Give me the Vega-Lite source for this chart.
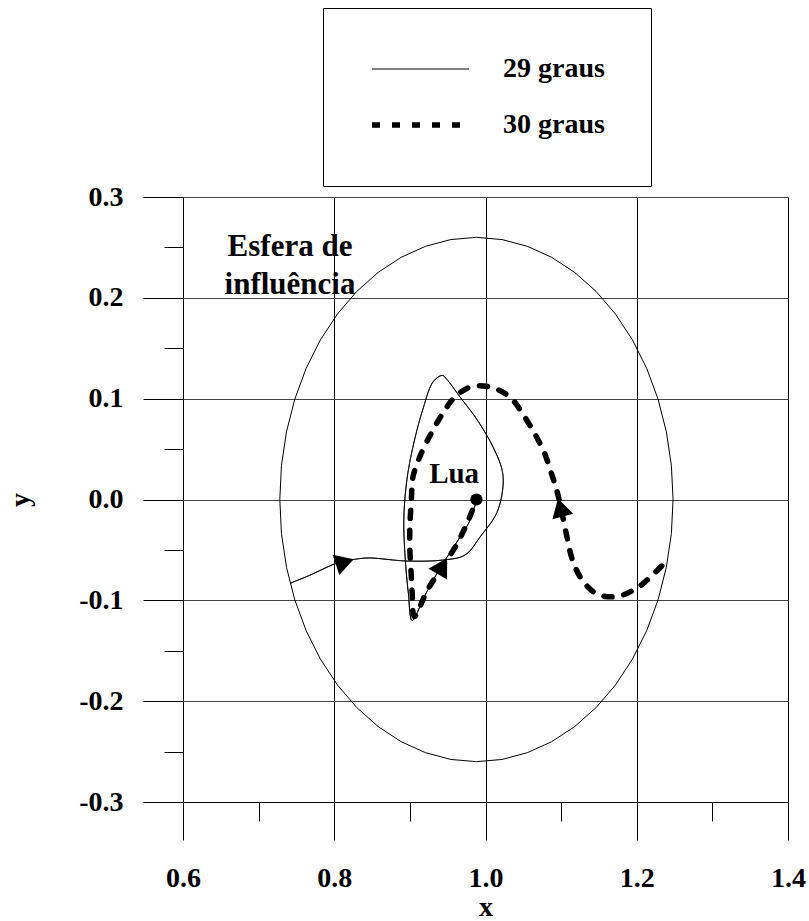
{
  "$schema": "https://vega.github.io/schema/vega-lite/v6.json",
  "width": 605,
  "height": 605,
  "autosize": {"type": "none"},
  "padding": {"left": 183, "top": 197, "right": 21, "bottom": 119},
  "background": "white",
  "config": {
    "locale": {"number": {"decimal": ".", "thousands": ",", "grouping": [3], "currency": ["$", ""], "minus": "-"}},
    "view": {"stroke": "#000", "strokeWidth": 1},
    "font": "Liberation Serif",
    "axis": {
      "labelFont": "Liberation Serif", "labelFontWeight": "bold", "labelFontSize": 28, "labelColor": "#000",
      "titleFont": "Liberation Serif", "titleFontWeight": "bold", "titleFontSize": 28, "titleColor": "#000",
      "domainColor": "#000", "tickColor": "#000", "gridColor": "#000", "gridOpacity": 1,
      "labelFlush": false, "labelOverlap": false
    }
  },
  "datasets": {
    "circle": [
      {"i": 0, "x": 1.248, "y": 0}, {"i": 1, "x": 1.2458, "y": 0.0339}, {"i": 2, "x": 1.2391, "y": 0.0673},
      {"i": 3, "x": 1.2282, "y": 0.0995}, {"i": 4, "x": 1.2132, "y": 0.13}, {"i": 5, "x": 1.1943, "y": 0.1583},
      {"i": 6, "x": 1.1719, "y": 0.1839}, {"i": 7, "x": 1.1463, "y": 0.2063}, {"i": 8, "x": 1.118, "y": 0.2252},
      {"i": 9, "x": 1.0875, "y": 0.2402}, {"i": 10, "x": 1.0553, "y": 0.2511}, {"i": 11, "x": 1.0219, "y": 0.2578},
      {"i": 12, "x": 0.988, "y": 0.26}, {"i": 13, "x": 0.9541, "y": 0.2578}, {"i": 14, "x": 0.9207, "y": 0.2511},
      {"i": 15, "x": 0.8885, "y": 0.2402}, {"i": 16, "x": 0.858, "y": 0.2252}, {"i": 17, "x": 0.8297, "y": 0.2063},
      {"i": 18, "x": 0.8042, "y": 0.1839}, {"i": 19, "x": 0.7817, "y": 0.1583}, {"i": 20, "x": 0.7628, "y": 0.13},
      {"i": 21, "x": 0.7478, "y": 0.0995}, {"i": 22, "x": 0.7369, "y": 0.0673}, {"i": 23, "x": 0.7302, "y": 0.0339},
      {"i": 24, "x": 0.728, "y": 0}, {"i": 25, "x": 0.7302, "y": -0.0339}, {"i": 26, "x": 0.7369, "y": -0.0673},
      {"i": 27, "x": 0.7478, "y": -0.0995}, {"i": 28, "x": 0.7628, "y": -0.13}, {"i": 29, "x": 0.7817, "y": -0.1583},
      {"i": 30, "x": 0.8042, "y": -0.1839}, {"i": 31, "x": 0.8297, "y": -0.2063}, {"i": 32, "x": 0.858, "y": -0.2252},
      {"i": 33, "x": 0.8885, "y": -0.2402}, {"i": 34, "x": 0.9207, "y": -0.2511}, {"i": 35, "x": 0.9541, "y": -0.2578},
      {"i": 36, "x": 0.988, "y": -0.26}, {"i": 37, "x": 1.0219, "y": -0.2578}, {"i": 38, "x": 1.0553, "y": -0.2511},
      {"i": 39, "x": 1.0875, "y": -0.2402}, {"i": 40, "x": 1.118, "y": -0.2252}, {"i": 41, "x": 1.1463, "y": -0.2063},
      {"i": 42, "x": 1.1719, "y": -0.1839}, {"i": 43, "x": 1.1943, "y": -0.1583}, {"i": 44, "x": 1.2132, "y": -0.13},
      {"i": 45, "x": 1.2282, "y": -0.0995}, {"i": 46, "x": 1.2391, "y": -0.0673}, {"i": 47, "x": 1.2458, "y": -0.0339},
      {"i": 48, "x": 1.248, "y": 0}
    ],
    "traj": [
      {"series": "29 graus", "i": 0, "x": 0.742, "y": -0.083},
      {"series": "29 graus", "i": 1, "x": 0.768, "y": -0.075},
      {"series": "29 graus", "i": 2, "x": 0.804, "y": -0.063},
      {"series": "29 graus", "i": 3, "x": 0.830, "y": -0.059},
      {"series": "29 graus", "i": 4, "x": 0.847, "y": -0.058},
      {"series": "29 graus", "i": 5, "x": 0.896, "y": -0.061},
      {"series": "29 graus", "i": 6, "x": 0.944, "y": -0.060},
      {"series": "29 graus", "i": 7, "x": 0.973, "y": -0.055},
      {"series": "29 graus", "i": 8, "x": 0.993, "y": -0.037},
      {"series": "29 graus", "i": 9, "x": 1.015, "y": -0.013},
      {"series": "29 graus", "i": 10, "x": 1.023, "y": 0.012},
      {"series": "29 graus", "i": 11, "x": 1.022, "y": 0.029},
      {"series": "29 graus", "i": 12, "x": 1.010, "y": 0.052},
      {"series": "29 graus", "i": 13, "x": 0.989, "y": 0.079},
      {"series": "29 graus", "i": 14, "x": 0.966, "y": 0.102},
      {"series": "29 graus", "i": 15, "x": 0.949, "y": 0.119},
      {"series": "29 graus", "i": 16, "x": 0.943, "y": 0.123},
      {"series": "29 graus", "i": 17, "x": 0.931, "y": 0.117},
      {"series": "29 graus", "i": 18, "x": 0.917, "y": 0.089},
      {"series": "29 graus", "i": 19, "x": 0.904, "y": 0.052},
      {"series": "29 graus", "i": 20, "x": 0.896, "y": 0.019},
      {"series": "29 graus", "i": 21, "x": 0.892, "y": -0.020},
      {"series": "29 graus", "i": 22, "x": 0.894, "y": -0.060},
      {"series": "29 graus", "i": 23, "x": 0.898, "y": -0.093},
      {"series": "29 graus", "i": 24, "x": 0.903, "y": -0.120},
      {"series": "29 graus", "i": 25, "x": 0.920, "y": -0.095},
      {"series": "29 graus", "i": 26, "x": 0.940, "y": -0.068},
      {"series": "29 graus", "i": 27, "x": 0.964, "y": -0.040},
      {"series": "29 graus", "i": 28, "x": 0.980, "y": -0.020},
      {"series": "29 graus", "i": 29, "x": 0.988, "y": 0.000},
      {"series": "30 graus", "i": 0, "x": 1.233, "y": -0.066},
      {"series": "30 graus", "i": 1, "x": 1.222, "y": -0.074},
      {"series": "30 graus", "i": 2, "x": 1.202, "y": -0.087},
      {"series": "30 graus", "i": 3, "x": 1.175, "y": -0.096},
      {"series": "30 graus", "i": 4, "x": 1.148, "y": -0.094},
      {"series": "30 graus", "i": 5, "x": 1.128, "y": -0.080},
      {"series": "30 graus", "i": 6, "x": 1.115, "y": -0.060},
      {"series": "30 graus", "i": 7, "x": 1.108, "y": -0.038},
      {"series": "30 graus", "i": 8, "x": 1.101, "y": -0.013},
      {"series": "30 graus", "i": 9, "x": 1.095, "y": 0.007},
      {"series": "30 graus", "i": 10, "x": 1.088, "y": 0.024},
      {"series": "30 graus", "i": 11, "x": 1.078, "y": 0.046},
      {"series": "30 graus", "i": 12, "x": 1.066, "y": 0.064},
      {"series": "30 graus", "i": 13, "x": 1.050, "y": 0.084},
      {"series": "30 graus", "i": 14, "x": 1.033, "y": 0.101},
      {"series": "30 graus", "i": 15, "x": 1.009, "y": 0.111},
      {"series": "30 graus", "i": 16, "x": 0.982, "y": 0.112},
      {"series": "30 graus", "i": 17, "x": 0.960, "y": 0.102},
      {"series": "30 graus", "i": 18, "x": 0.944, "y": 0.086},
      {"series": "30 graus", "i": 19, "x": 0.927, "y": 0.064},
      {"series": "30 graus", "i": 20, "x": 0.913, "y": 0.042},
      {"series": "30 graus", "i": 21, "x": 0.904, "y": 0.022},
      {"series": "30 graus", "i": 22, "x": 0.902, "y": 0.000},
      {"series": "30 graus", "i": 23, "x": 0.900, "y": -0.027},
      {"series": "30 graus", "i": 24, "x": 0.900, "y": -0.050},
      {"series": "30 graus", "i": 25, "x": 0.902, "y": -0.077},
      {"series": "30 graus", "i": 26, "x": 0.903, "y": -0.093},
      {"series": "30 graus", "i": 27, "x": 0.906, "y": -0.116},
      {"series": "30 graus", "i": 28, "x": 0.923, "y": -0.090},
      {"series": "30 graus", "i": 29, "x": 0.940, "y": -0.070},
      {"series": "30 graus", "i": 30, "x": 0.960, "y": -0.047},
      {"series": "30 graus", "i": 31, "x": 0.976, "y": -0.023},
      {"series": "30 graus", "i": 32, "x": 0.988, "y": 0.000}
    ],
    "arrows": [
      {"x": 0.814, "y": -0.062, "dir": 72},
      {"x": 0.943, "y": -0.066, "dir": 30},
      {"x": 1.099, "y": -0.008, "dir": 345}
    ],
    "moon": [{"x": 0.988, "y": 0}],
    "lua": [{"x": 0.9585, "y": 0.025, "text": "Lua"}],
    "esfera": [{"x": 0.7415, "y": 0.2505, "text": "Esfera de\ninfluência"}]
  },
  "layer": [
    {
      "data": {"name": "circle"},
      "mark": {"type": "line", "stroke": "#000", "strokeWidth": 1},
      "encoding": {
        "x": {"field": "x", "type": "quantitative", "scale": {"domain": [0.6, 1.4], "nice": false, "zero": false},
          "axis": {"orient": "bottom", "values": [0.6, 0.8, 1.0, 1.2, 1.4], "format": ".1f", "tickSize": 38, "labelPadding": 24,
            "grid": true, "gridColor": "#000", "domain": true, "title": "x", "titlePadding": 1}},
        "y": {"field": "y", "type": "quantitative", "scale": {"domain": [-0.3, 0.3], "nice": false, "zero": false},
          "axis": {"orient": "left", "values": [-0.3, -0.2, -0.1, 0.0, 0.1, 0.2, 0.3], "format": ".1f", "tickSize": 40, "labelPadding": 20,
            "grid": true, "gridColor": "#444", "domain": true, "title": "y", "titlePadding": 44}},
        "order": {"field": "i", "type": "quantitative"}
      }
    },
    {
      "data": {"name": "traj"},
      "mark": {"type": "line", "stroke": "#000", "strokeCap": "round", "interpolate": "catmull-rom"},
      "encoding": {
        "x": {"field": "x", "type": "quantitative", "scale": {"domain": [0.6, 1.4], "nice": false, "zero": false}, "axis": null},
        "y": {"field": "y", "type": "quantitative", "scale": {"domain": [-0.3, 0.3], "nice": false, "zero": false}, "axis": null},
        "order": {"field": "i", "type": "quantitative"},
        "strokeDash": {"field": "series", "type": "nominal",
          "scale": {"domain": ["29 graus", "30 graus"], "range": [[1, 0], [8, 12]]},
          "legend": {"title": null, "orient": "none", "legendX": 140, "legendY": -189, "symbolType": "stroke", "symbolSize": 9409,
            "symbolStrokeColor": "#000", "clipHeight": 30, "rowPadding": 26, "labelOffset": 31, "labelFont": "Liberation Serif",
            "labelFontWeight": "bold", "labelFontSize": 28, "labelColor": "#000", "padding": 46, "strokeColor": "#000",
            "fillColor": "#fff", "labelLimit": 0,
            "encoding": {"symbols": {"update": {"strokeCap": {"value": "round"}}}}}},
        "strokeWidth": {"field": "series", "type": "nominal",
          "scale": {"type": "ordinal", "domain": ["29 graus", "30 graus"], "range": [1, 5.5]},
          "legend": {"title": null, "orient": "none", "legendX": 140, "legendY": -189, "symbolType": "stroke", "symbolSize": 9409,
            "symbolStrokeColor": "#000", "clipHeight": 30, "rowPadding": 26, "labelOffset": 31, "labelFont": "Liberation Serif",
            "labelFontWeight": "bold", "labelFontSize": 28, "labelColor": "#000", "padding": 46, "strokeColor": "#000",
            "fillColor": "#fff", "labelLimit": 0,
            "encoding": {"symbols": {"update": {"strokeCap": {"value": "round"}}}}}}
      }
    },
    {
      "data": {"name": "arrows"},
      "mark": {"type": "point", "shape": "triangle-up", "filled": true, "color": "#000", "opacity": 1, "size": 460},
      "encoding": {
        "x": {"field": "x", "type": "quantitative", "scale": {"domain": [0.6, 1.4], "nice": false, "zero": false}, "axis": null},
        "y": {"field": "y", "type": "quantitative", "scale": {"domain": [-0.3, 0.3], "nice": false, "zero": false}, "axis": null},
        "angle": {"field": "dir", "type": "quantitative", "scale": null}
      }
    },
    {
      "data": {"name": "moon"},
      "mark": {"type": "point", "shape": "circle", "filled": true, "color": "#000", "opacity": 1, "size": 150},
      "encoding": {
        "x": {"field": "x", "type": "quantitative", "scale": {"domain": [0.6, 1.4], "nice": false, "zero": false},
          "axis": {"orient": "bottom", "values": [0.7, 0.9, 1.1, 1.3], "tickSize": 19, "labels": false, "domain": false, "grid": false, "title": null}},
        "y": {"field": "y", "type": "quantitative", "scale": {"domain": [-0.3, 0.3], "nice": false, "zero": false},
          "axis": {"orient": "left", "values": [-0.25, -0.15, -0.05, 0.05, 0.15, 0.25], "tickSize": 19, "labels": false, "domain": false, "grid": false, "title": null}}
      }
    },
    {
      "data": {"name": "lua"},
      "mark": {"type": "text", "font": "Liberation Serif", "fontWeight": "bold", "fontSize": 29, "align": "center", "baseline": "middle", "color": "#000"},
      "encoding": {
        "x": {"field": "x", "type": "quantitative", "scale": {"domain": [0.6, 1.4], "nice": false, "zero": false}, "axis": null},
        "y": {"field": "y", "type": "quantitative", "scale": {"domain": [-0.3, 0.3], "nice": false, "zero": false}, "axis": null},
        "text": {"field": "text"}
      }
    },
    {
      "data": {"name": "esfera"},
      "mark": {"type": "text", "font": "Liberation Serif", "fontWeight": "bold", "fontSize": 31, "align": "center", "baseline": "middle", "color": "#000", "lineBreak": "\n", "lineHeight": 38},
      "encoding": {
        "x": {"field": "x", "type": "quantitative", "scale": {"domain": [0.6, 1.4], "nice": false, "zero": false}, "axis": null},
        "y": {"field": "y", "type": "quantitative", "scale": {"domain": [-0.3, 0.3], "nice": false, "zero": false}, "axis": null},
        "text": {"field": "text"}
      }
    }
  ],
  "resolve": {"axis": {"x": "independent", "y": "independent"}}
}
